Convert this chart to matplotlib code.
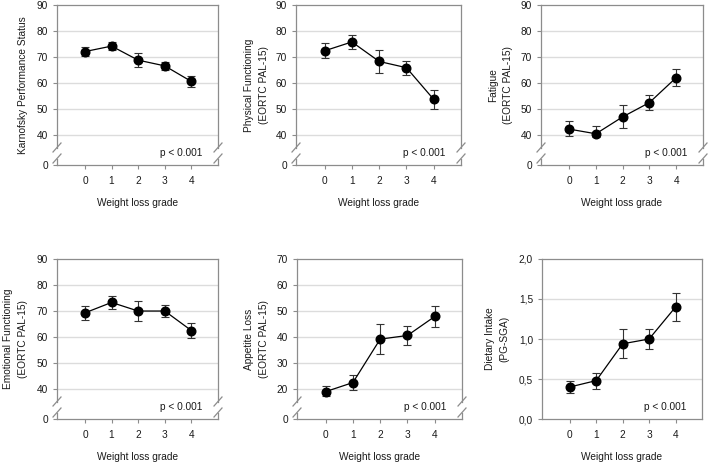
import numpy as np
import matplotlib
matplotlib.use('Agg')
import matplotlib.pyplot as plt

plt.rcParams['font.family'] = ['Liberation Sans', 'DejaVu Sans']

# ---------------- data ----------------
grades = [0, 1, 2, 3, 4]
x_label = 'Weight loss grade'
p_text = 'p < 0.001'

kps_mean = [72.1, 74.2, 68.8, 66.6, 60.6]
kps_err = [1.6, 1.6, 2.8, 1.4, 2.0]
pf_mean = [72.4, 75.8, 68.3, 65.9, 53.7]
pf_err = [2.9, 2.7, 4.4, 2.7, 3.6]
fat_mean = [42.3, 40.5, 47.0, 52.5, 62.1]
fat_err = [3.0, 2.9, 4.4, 2.8, 3.4]
ef_mean = [69.3, 73.3, 70.0, 70.0, 62.5]
ef_err = [2.7, 2.4, 3.9, 2.4, 2.9]
al_mean = [18.3, 22.5, 39.2, 40.6, 47.9]
al_err = [3.0, 3.1, 5.8, 3.8, 4.2]
di_mean = [0.40, 0.48, 0.94, 1.00, 1.40]
di_err = [0.08, 0.10, 0.18, 0.12, 0.17]

ylabels = ['Karnofsky Performance Status',
           'Physical Functioning\n(EORTC PAL-15)',
           'Fatigue\n(EORTC PAL-15)',
           'Emotional Functioning\n(EORTC PAL-15)',
           'Appetite Loss\n(EORTC PAL-15)',
           'Dietary Intake\n(PG-SGA)']
ticks_90 = [0, 40, 50, 60, 70, 80, 90]
ticks_70 = [0, 20, 30, 40, 50, 60, 70]
ticks_di = [0.0, 0.5, 1.0, 1.5, 2.0]
tick_labels_di = ['0,0', '0,5', '1,0', '1,5', '2,0']

panels = [
    dict(mean=kps_mean, err=kps_err, ylabel=ylabels[0], ticks=ticks_90, lo=40, top=90),
    dict(mean=pf_mean, err=pf_err, ylabel=ylabels[1], ticks=ticks_90, lo=40, top=90),
    dict(mean=fat_mean, err=fat_err, ylabel=ylabels[2], ticks=ticks_90, lo=40, top=90),
    dict(mean=ef_mean, err=ef_err, ylabel=ylabels[3], ticks=ticks_90, lo=40, top=90),
    dict(mean=al_mean, err=al_err, ylabel=ylabels[4], ticks=ticks_70, lo=20, top=70),
    dict(mean=di_mean, err=di_err, ylabel=ylabels[5], ticks=ticks_di, lo=None, top=2.0,
         ticklabels=tick_labels_di),
]

# ---------------- layout (pixels) ----------------
W, H = 709, 465
boxes = [  # left, right, top, bottom
    (57, 218, 5, 165), (296, 461, 5, 165), (541, 703, 5, 165),
    (57, 218, 259, 419), (297, 462, 259, 419), (542, 702, 259, 419),
]
ylabel_x = [-0.21, -0.24, -0.25, -0.26, -0.245, -0.28]

SPINE = '#8c8c8c'
GRID = '#dcdcdc'
TXT = '#1a1a1a'
FS = 7.3


def broken_scale(lo, gap):
    def fwd(y):
        y = np.asarray(y, float)
        return np.where(y >= lo, y, lo - gap + y * gap / lo)

    def inv(v):
        v = np.asarray(v, float)
        return np.where(v >= lo, v, (v - (lo - gap)) * lo / gap)
    return fwd, inv


fig = plt.figure(figsize=(W / 100, H / 100), dpi=100)

for i, pnl in enumerate(panels):
    l, r, t, b = boxes[i]
    ax = fig.add_axes([l / W, 1 - b / H, (r - l) / W, (b - t) / H])
    wpx, hpx = r - l, b - t
    if pnl['lo'] is not None:
        fwd, inv = broken_scale(pnl['lo'], 11.5)
        ax.set_yscale('function', functions=(fwd, inv))
    ax.set_ylim(0, pnl['top'])
    ax.set_xlim(-1.05, 5.0)

    # grid lines at inner ticks
    for tv in pnl['ticks'][1:-1]:
        if pnl['lo'] is not None and tv < pnl['lo']:
            continue
        ax.axhline(tv, color=GRID, lw=1.0, zorder=0)

    ax.errorbar(grades, pnl['mean'], yerr=pnl['err'], fmt='none',
                ecolor='#333333', elinewidth=0.8, capsize=2.6, capthick=0.8, zorder=2)
    ax.plot(grades, pnl['mean'], color='black', lw=0.9, marker='o',
            markersize=6.2, markerfacecolor='black', markeredgecolor='black', zorder=3)

    ax.set_yticks(pnl['ticks'])
    if 'ticklabels' in pnl:
        ax.set_yticklabels(pnl['ticklabels'])
    ax.set_xticks(grades)
    ax.tick_params(axis='both', direction='out', length=3, width=0.8, color=SPINE,
                   labelsize=FS, labelcolor=TXT, pad=3.5)
    ax.tick_params(axis='x', pad=5)

    for s in ['top', 'bottom']:
        ax.spines[s].set_color(SPINE)
        ax.spines[s].set_linewidth(0.9)

    if pnl['lo'] is not None:
        ax.spines['left'].set_visible(False)
        ax.spines['right'].set_visible(False)
        ylo = 6.5 / hpx   # lower slash centre
        yhi = 17.5 / hpx  # upper slash centre
        for xs in (0, 1):
            ax.plot([xs, xs], [0, ylo], transform=ax.transAxes, color=SPINE,
                    lw=0.9, clip_on=False, zorder=4)
            ax.plot([xs, xs], [yhi, 1], transform=ax.transAxes, color=SPINE,
                    lw=0.9, clip_on=False, zorder=4)
            dx, dy = 4.0 / wpx, 4.5 / hpx
            for yc in (ylo, yhi):
                ax.plot([xs - dx, xs + dx], [yc - dy, yc + dy], transform=ax.transAxes,
                        color=SPINE, lw=0.9, clip_on=False, zorder=4)
    else:
        for s in ['left', 'right']:
            ax.spines[s].set_color(SPINE)
            ax.spines[s].set_linewidth(0.9)

    ax.text(0.905, 0.077, p_text, transform=ax.transAxes, ha='right', va='center',
            fontsize=FS, color=TXT)

    ax.set_ylabel(pnl['ylabel'], fontsize=FS, color=TXT, multialignment='center',
                  va='center', ha='center', linespacing=1.65)
    ax.yaxis.set_label_coords(ylabel_x[i], 0.5)
    ax.set_xlabel(x_label, fontsize=FS, color=TXT)
    ax.xaxis.set_label_coords(0.5, -0.205)
    ax.xaxis.label.set_va('top')

fig.savefig('out.png', dpi=100)
